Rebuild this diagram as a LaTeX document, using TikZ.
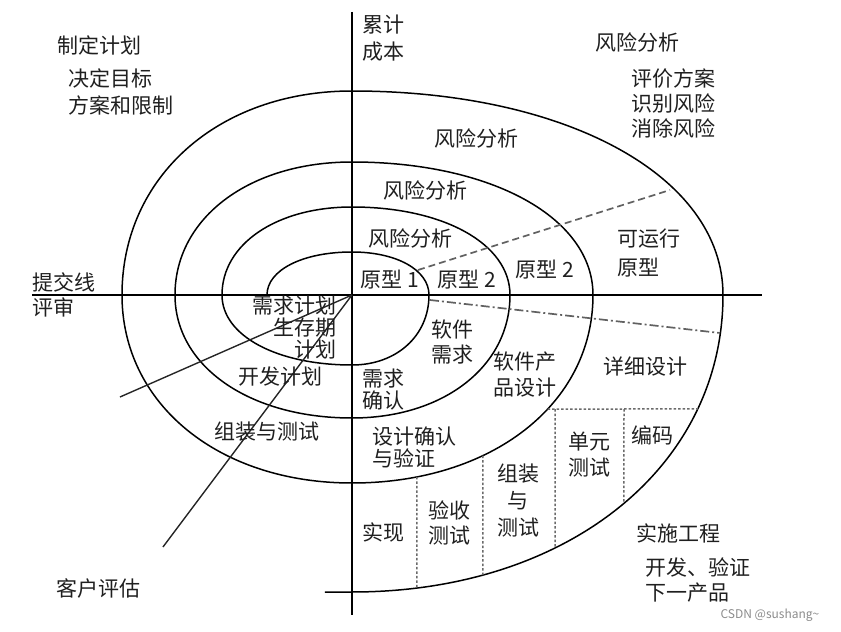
\documentclass[tikz,border=0pt]{standalone}
\usepackage{fontspec}
\newfontfamily\cjkfont{Noto Sans CJK SC}
\usetikzlibrary{intersections}
\begin{document}
\begin{tikzpicture}[x=1pt,y=1pt,
  lbl/.style={font=\cjkfont\fontsize{21}{25}\selectfont, inner sep=0pt, text=black!88},
  axisline/.style={line width=1.3pt},
  spir/.style={line width=1.5pt},
  ray/.style={line width=1.4pt, black!85},
  dashg/.style={black!62, line width=1.7pt, dash pattern=on 7pt off 4pt},
  dashdot/.style={black!62, line width=1.7pt, dash pattern=on 9pt off 3pt on 2pt off 3pt},
  dotg/.style={black!58, line width=1.5pt, dash pattern=on 2.5pt off 2pt}]
\def\kk{0.58}
\useasboundingbox (-352,-337) rectangle (489,295);
% axes
\coordinate (O) at (0,0);
\coordinate (vtop) at (0,283);
\coordinate (vbot) at (0,-320);
\coordinate (hl) at (-320,0);
\coordinate (hr) at (410,0);
\draw[axisline] (vtop) -- (vbot);
\draw[axisline] (hl) -- (hr);
% spiral
\draw[spir] (-85,0)
 .. controls (-85,{\kk*43}) and ({-\kk*85},43) .. (0,43)
 .. controls ({\kk*77},43) and (77,{\kk*43}) .. (77,0)
 .. controls (77,{-\kk*70}) and ({\kk*77},-70) .. (0,-70)
 .. controls ({-\kk*130},-70) and (-130,{-\kk*70}) .. (-130,0)
 .. controls (-130,{\kk*88}) and ({-\kk*130},88) .. (0,88)
 .. controls ({\kk*158},88) and (158,{\kk*88}) .. (158,0)
 .. controls (158,{-\kk*123}) and ({\kk*158},-123) .. (0,-123)
 .. controls ({-\kk*177},-123) and (-177,{-\kk*123}) .. (-177,0)
 .. controls (-177,{\kk*133}) and ({-\kk*177},133) .. (0,133)
 .. controls ({\kk*241},133) and (241,{\kk*133}) .. (241,0)
 .. controls (241,{-\kk*188}) and ({\kk*241},-188) .. (0,-188)
 .. controls ({-\kk*230},-188) and (-230,{-\kk*188}) .. (-230,0)
 .. controls (-230,{\kk*204}) and ({-\kk*230},204) .. (0,204)
 .. controls ({\kk*371},204) and (371,{\kk*204}) .. (371,0)
 .. controls (371,{-\kk*297}) and ({\kk*371},-297) .. (0,-297)
 -- (-27,-297);
% helper paths for the dotted cells
\path[name path=R3] (241,0) .. controls (241,{-\kk*188}) and ({\kk*241},-188) .. (0,-188);
\path[name path=R4] (371,0) .. controls (371,{-\kk*297}) and ({\kk*371},-297) .. (0,-297);
\path[name path=hh] (150,-114) -- (420,-114);
\path[name path=va] (203,-114) -- (203,-360);
\path[name path=vb] (272,-114) -- (272,-360);
\path[name path=vc] (131,-60) -- (131,-360);
\path[name path=vd] (65,-60) -- (65,-360);
\path[name intersections={of=R3 and hh, by=hA}];
\path[name intersections={of=R4 and hh, by=hB}];
\path[name intersections={of=R4 and va, by=vaB}];
\path[name intersections={of=R4 and vb, by=vbB}];
\path[name intersections={of=R3 and vc, by=vcA}];
\path[name intersections={of=R4 and vc, by=vcB}];
\path[name intersections={of=R3 and vd, by=vdA}];
\path[name intersections={of=R4 and vd, by=vdB}];
\coordinate (vaA) at (203,-114);
\coordinate (vbA) at (272,-114);
\draw[dotg] (hA) -- (hB);
\draw[dotg] (vaA) -- (vaB);
\draw[dotg] (vbA) -- (vbB);
\draw[dotg] (vcA) -- (vcB);
\draw[dotg] (vdA) -- (vdB);
% dashed prototype boundaries
\coordinate (du1) at (66,25);
\coordinate (du2) at (318,105);
\coordinate (dl1) at (78,-5);
\coordinate (dl2) at (368,-38);
\draw[dashg] (du1) -- (du2);
\draw[dashdot] (dl1) -- (dl2);
% review rays
\coordinate (r1) at (-232,-102);
\coordinate (r2) at (-189,-252);
\draw[ray] (O) -- (r1);
\draw[ray] (O) -- (r2);
% labels
\node[lbl] (plan) at (-252,250) {制定计划};
\node[lbl, anchor=west, align=left, font=\cjkfont\fontsize{21}{27}\selectfont] (goal) at (-284,203.5) {决定目标\\方案和限制};
\node[lbl, anchor=west, align=left, font=\cjkfont\fontsize{21}{27}\selectfont] (cost) at (10,256.5) {累计\\成本};
\node[lbl] (risk0) at (285,253) {风险分析};
\node[lbl, align=center] (riskd) at (321,192) {评价方案\\识别风险\\消除风险};
\node[lbl] (risk1) at (124,157) {风险分析};
\node[lbl] (risk2) at (74,105) {风险分析};
\node[lbl] (risk3) at (59,57) {风险分析};
\node[lbl] (proto1) at (38,15) {原型 1};
\node[lbl] (proto2a) at (115,15) {原型 2};
\node[lbl] (proto2b) at (193,25) {原型 2};
\node[lbl, anchor=west, align=left, font=\cjkfont\fontsize{21}{29}\selectfont] (oper) at (265,42.5) {可运行\\原型};
\node[lbl, anchor=west, align=left] (submit) at (-320,0) {提交线\\评审};
\node[lbl, anchor=east, align=right, font=\cjkfont\fontsize{21}{22}\selectfont] (reqplan) at (-15,-33) {需求计划\\生存期\\计划};
\node[lbl] (devplan) at (-71,-82) {开发计划};
\node[lbl] (asm) at (-85,-137) {组装与测试};
\node[lbl, anchor=west, align=left, font=\cjkfont\fontsize{21}{22}\selectfont] (reqconf) at (10,-95) {需求\\确认};
\node[lbl, anchor=west, align=left, font=\cjkfont\fontsize{21}{22}\selectfont] (dconf) at (20,-152.5) {设计确认\\与验证};
\node[lbl, align=center] (swreq) at (101,-47.5) {软件\\需求};
\node[lbl, align=center, font=\cjkfont\fontsize{21}{26}\selectfont] (swdes) at (173,-80) {软件产\\品设计};
\node[lbl] (detail) at (293,-72) {详细设计};
\node[lbl, align=center, font=\cjkfont\fontsize{21}{26}\selectfont] (unit) at (237,-160) {单元\\测试};
\node[lbl] (code) at (300,-140) {编码};
\node[lbl, align=center, font=\cjkfont\fontsize{21}{27}\selectfont] (asm2) at (166,-205) {组装\\与\\测试};
\node[lbl, align=center] (accept) at (98,-227.5) {验收\\测试};
\node[lbl] (impl) at (32,-237) {实现};
\node[lbl] (eng) at (326,-238) {实施工程};
\node[lbl, anchor=west, align=left] (next) at (293,-285.5) {开发、验证\\下一产品};
\node[lbl] (cust) at (-253,-293) {客户评估};
\node[font=\cjkfont\fontsize{12}{14}\selectfont, text=black!45, inner sep=0pt] (wm) at (418,-320) {CSDN @sushang\textasciitilde};
\end{tikzpicture}
\end{document}
